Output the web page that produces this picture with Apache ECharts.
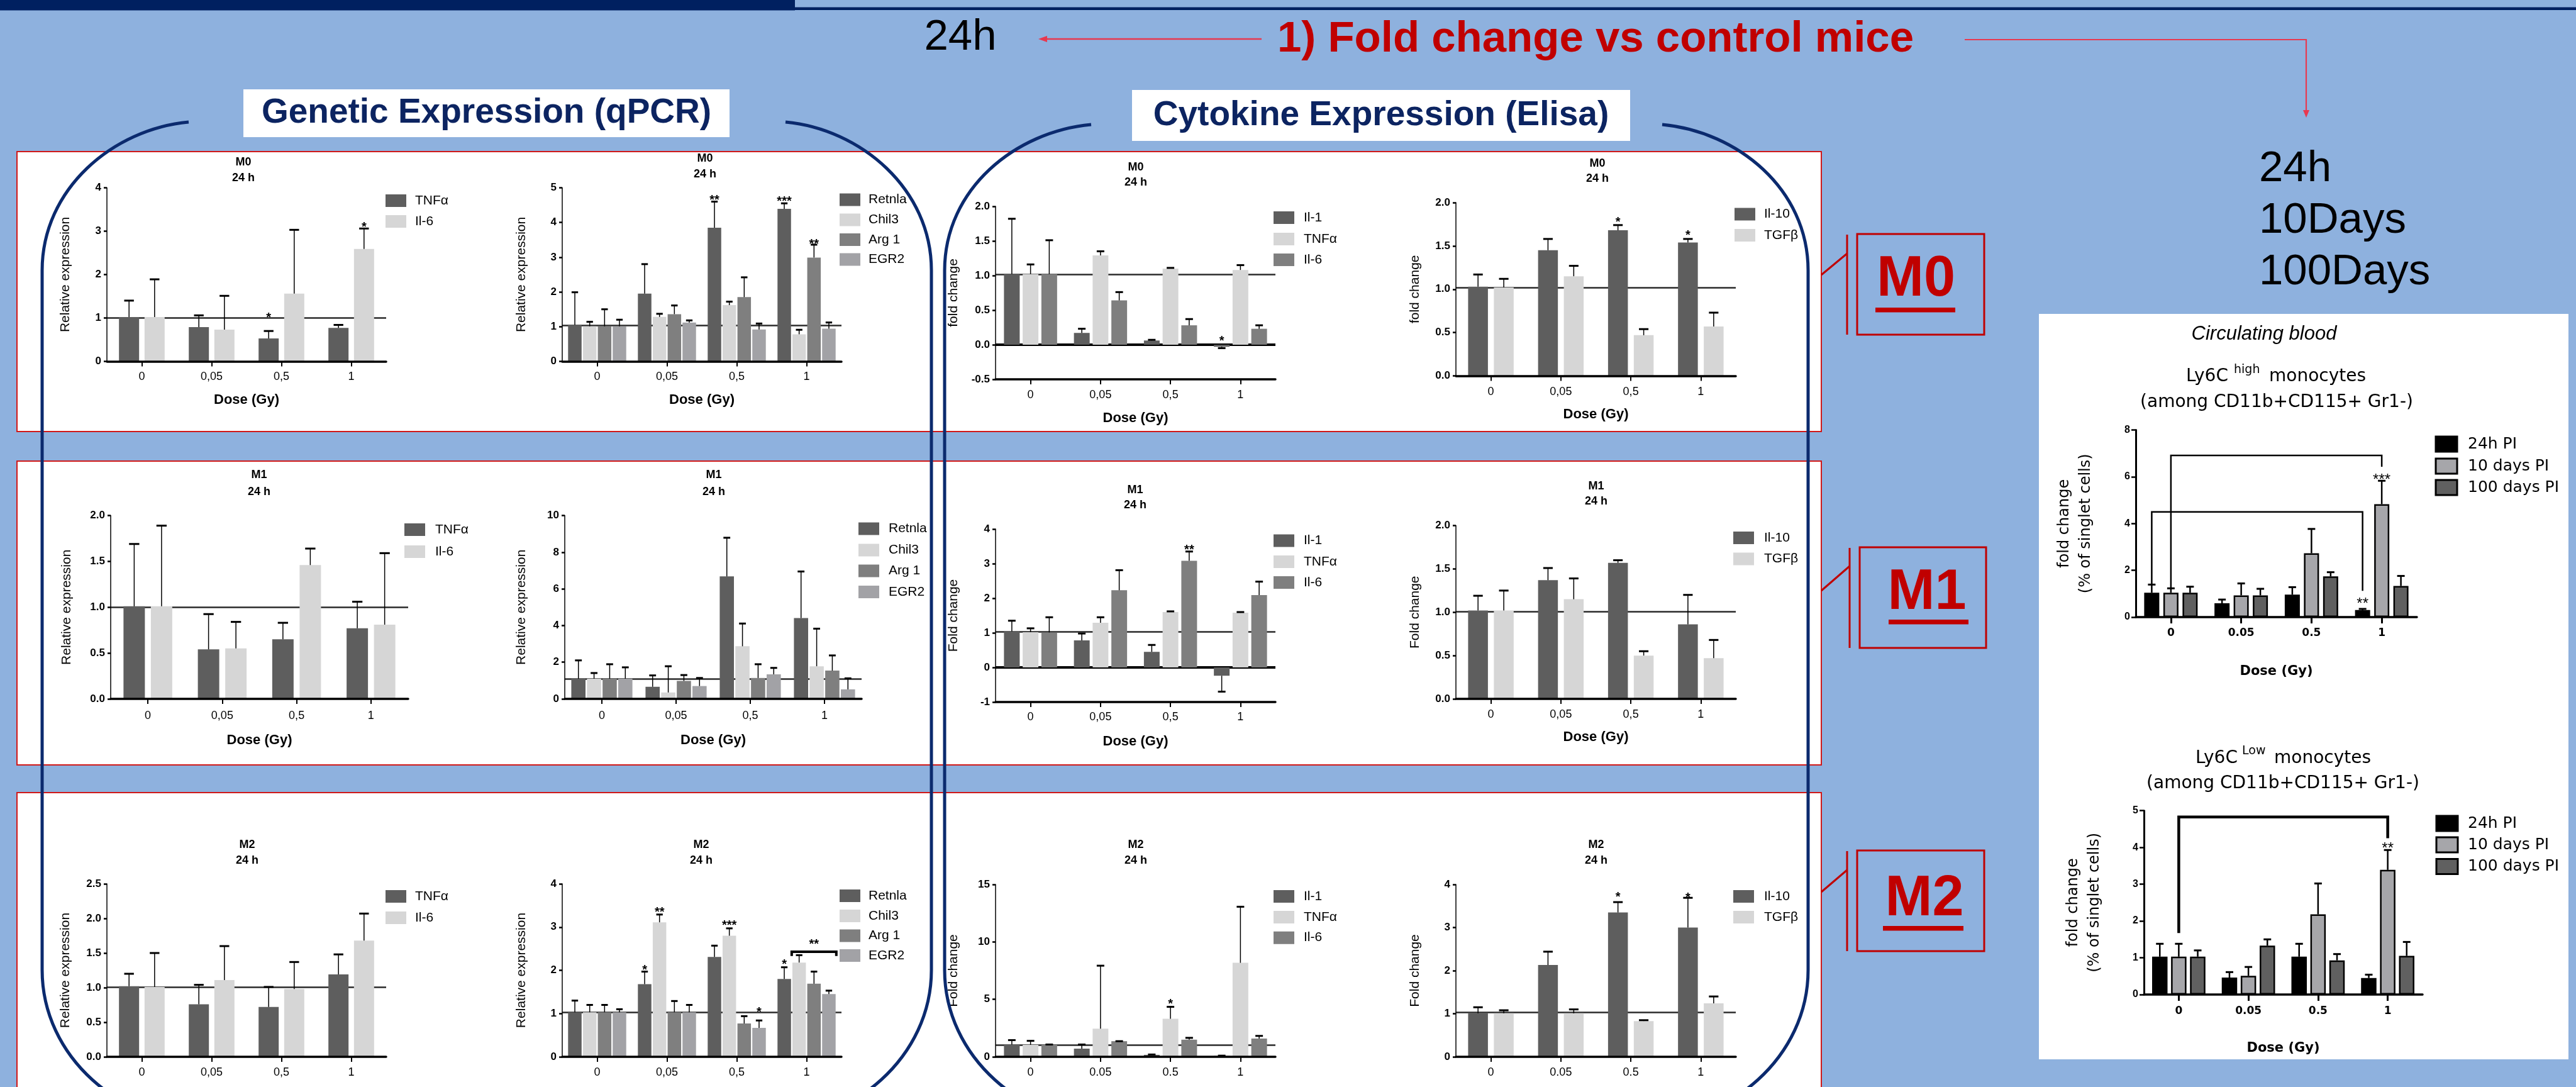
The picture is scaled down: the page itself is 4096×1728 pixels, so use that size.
<!DOCTYPE html>
<html><head><meta charset="utf-8">
<script src="https://cdn.jsdelivr.net/npm/echarts@6/dist/echarts.min.js"></script>
<style>html,body{margin:0;padding:0;background:#8EB1DE;overflow:hidden}#c{width:4096px;height:1728px}</style>
</head><body><div id="c"></div>
<script>
// ---------------- DATA ----------------
const dosesComma = ['0', '0,05', '0,5', '1'];
const dosesDot = ['0', '0.05', '0.5', '1'];
const rowNames = ['M0', 'M1', 'M2'];
const timeLabel = '24 h';
const doseName = 'Dose (Gy)';
const qpcrYName = 'Relative expression';

// M0 qPCR (TNFα / Il-6)
const m0g1Names = ['TNFα', 'Il-6'];
const m0g1Mean = [[1.02, 0.79, 0.53, 0.77], [1.02, 0.73, 1.56, 2.59]];
const m0g1Err = [[1.40, 1.06, 0.70, 0.84], [1.89, 1.51, 3.03, 3.06]];
const m0g1Ref = 1.0;
const m0g1Stars = [[2, 0, 1.07, '*'], [3, 1, 3.15, '*']];
// M0 qPCR (M2 markers)
const m0g2Names = ['Retnla', 'Chil3', 'Arg 1', 'EGR2'];
const m0g2Mean = [[1.05, 1.95, 3.85, 4.39], [1.01, 1.28, 1.62, 0.78], [1.01, 1.36, 1.85, 2.99], [1.01, 1.12, 0.92, 0.94]];
const m0g2Err = [[1.99, 2.80, 4.60, 4.55], [1.14, 1.37, 1.72, 0.91], [1.50, 1.61, 2.42, 3.36], [1.20, 1.18, 1.09, 1.12]];
const m0g2Ref = 1.04;
const m0g2Stars = [[2, 0, 4.72, '**'], [3, 0, 4.68, '***'], [3, 2, 3.45, '**']];
// M0 Elisa
const m0c1Names = ['Il-1', 'TNFα', 'Il-6'];
const m0c1Mean = [[1.02, 0.17, 0.06, -0.03], [1.02, 1.29, 1.10, 1.08], [1.02, 0.64, 0.28, 0.23]];
const m0c1Err = [[1.82, 0.23, 0.07, -0.05], [1.16, 1.35, 1.11, 1.15], [1.51, 0.76, 0.37, 0.28]];
const m0c1Ref = 1.02;
const m0c1Stars = [[3, 0, 0.09, '*']];
const m0c2Names = ['Il-10', 'TGFβ'];
const m0c2Mean = [[1.03, 1.45, 1.68, 1.54], [1.02, 1.15, 0.47, 0.57]];
const m0c2Err = [[1.17, 1.58, 1.74, 1.58], [1.12, 1.27, 0.54, 0.73]];
const m0c2Ref = 1.02;
const m0c2Stars = [[2, 0, 1.80, '*'], [3, 0, 1.65, '*']];

// M1 qPCR
const m1g1Names = ['TNFα', 'Il-6'];
const m1g1Mean = [[1.01, 0.54, 0.65, 0.77], [1.01, 0.55, 1.46, 0.81]];
const m1g1Err = [[1.69, 0.925, 0.83, 1.06], [1.89, 0.84, 1.64, 1.59]];
const m1g1Ref = 1.0;
const m1g2Names = ['Retnla', 'Chil3', 'Arg 1', 'EGR2'];
const m1g2Mean = [[1.10, 0.66, 6.68, 4.41], [1.10, 0.35, 2.87, 1.78], [1.10, 0.98, 1.14, 1.54], [1.10, 0.70, 1.34, 0.52]];
const m1g2Err = [[2.10, 1.28, 8.79, 6.95], [1.41, 1.78, 4.11, 3.83], [1.89, 1.30, 1.89, 2.37], [1.72, 1.14, 1.69, 1.12]];
const m1g2Ref = 1.09;
// M1 Elisa
const m1c1Names = ['Il-1', 'TNFα', 'Il-6'];
const m1c1Mean = [[1.04, 0.78, 0.45, -0.24], [1.02, 1.29, 1.60, 1.58], [1.01, 2.23, 3.08, 2.09]];
const m1c1Err = [[1.35, 0.98, 0.65, -0.70], [1.13, 1.45, 1.62, 1.60], [1.45, 2.81, 3.35, 2.48]];
const m1c1Ref = 1.03;
const m1c1Stars = [[2, 2, 3.47, '**']];
const m1c2Names = ['Il-10', 'TGFβ'];
const m1c2Mean = [[1.02, 1.37, 1.57, 0.86], [1.02, 1.15, 0.50, 0.47]];
const m1c2Err = [[1.19, 1.51, 1.60, 1.20], [1.25, 1.39, 0.55, 0.68]];
const m1c2Ref = 1.01;

// M2 qPCR
const m2g1Names = ['TNFα', 'Il-6'];
const m2g1Mean = [[1.02, 0.76, 0.72, 1.19], [1.01, 1.11, 0.98, 1.68]];
const m2g1Err = [[1.20, 1.04, 1.01, 1.48], [1.50, 1.60, 1.37, 2.07]];
const m2g1Ref = 1.01;
const m2g2Names = ['Retnla', 'Chil3', 'Arg 1', 'EGR2'];
const m2g2Mean = [[1.03, 1.68, 2.31, 1.80], [1.03, 3.11, 2.80, 2.18], [1.03, 1.03, 0.77, 1.69], [1.03, 1.03, 0.67, 1.45]];
const m2g2Err = [[1.30, 1.97, 2.57, 2.07], [1.20, 3.29, 2.97, 2.35], [1.20, 1.29, 0.94, 1.97], [1.10, 1.20, 0.84, 1.53]];
const m2g2Ref = 1.03;
const m2g2Stars = [[1, 0, 2.07, '*'], [1, 1, 3.40, '**'], [2, 1, 3.10, '***'], [2, 3, 1.09, '*'], [3, 0, 2.20, '*'], [3, 2, 2.66, '**']];
const m2g2Brackets = [[3, 0.5, 3, 3.5, 2.43, 2.33, 2.33]];
// M2 Elisa
const m2c1Names = ['Il-1', 'TNFα', 'Il-6'];
const m2c1Mean = [[1.07, 0.71, 0.17, 0.08], [1.04, 2.45, 3.31, 8.18], [1.04, 1.36, 1.49, 1.59]];
const m2c1Err = [[1.45, 1.07, 0.20, 0.10], [1.39, 7.93, 4.35, 13.06], [1.07, 1.36, 1.65, 1.82]];
const m2c1Ref = 1.04;
const m2c1Stars = [[2, 1, 4.79, '*']];
const m2c2Names = ['Il-10', 'TGFβ'];
const m2c2Mean = [[1.01, 2.13, 3.35, 3.00], [1.01, 1.01, 0.83, 1.24]];
const m2c2Err = [[1.15, 2.44, 3.59, 3.69], [1.08, 1.10, 0.85, 1.40]];
const m2c2Ref = 1.03;
const m2c2Stars = [[2, 0, 3.77, '*'], [3, 0, 3.75, '*']];

// Circulating blood
const bloodNames = ['24h PI', '10 days PI', '100 days PI'];
const highMean = [[1.04, 0.59, 0.96, 0.30], [1.04, 0.93, 2.73, 4.83], [1.04, 0.93, 1.74, 1.33]];
const highErr = [[1.39, 0.75, 1.28, 0.35], [1.23, 1.44, 3.77, 5.83], [1.30, 1.21, 1.92, 1.76]];
const highStars = [[3, 0, 0.70, '**'], [3, 1, 5.99, '***']];
const highBrackets = [[0, 1, 3, 1, 6.91, 1.23, 6.43], [0, 0, 3, 0, 4.50, 1.39, 1.12]];
const lowMean = [[1.03, 0.46, 1.03, 0.45], [1.03, 0.51, 2.18, 3.39], [1.03, 1.33, 0.93, 1.05]];
const lowErr = [[1.38, 0.61, 1.38, 0.54], [1.38, 0.75, 3.02, 3.93], [1.20, 1.50, 1.10, 1.43]];
const lowStars = [[3, 1, 4.06, '**']];
const lowBrackets = [[0, 1, 3, 1, 4.83, 1.67, 4.25]];
const bloodYName = 'fold change\n(% of singlet cells)';
const highTitle = ['Ly6C', 'high', 'monocytes'];
const lowTitle = ['Ly6C', 'Low', 'monocytes'];
const gateText = '(among CD11b+CD115+ Gr1-)';
const bloodTitle = 'Circulating blood';

const headerTime = '24h';
const headerTitle = '1) Fold change vs control mice';
const sideTimes = ['24h', '10Days', '100Days'];
const boxTitles = ['Genetic Expression (qPCR)', 'Cytokine Expression (Elisa)'];

// ---------------- STYLE / LAYOUT ----------------
const F = "'Liberation Sans', Arial, Helvetica, sans-serif";
const FW = "'DejaVu Sans', 'Liberation Sans', sans-serif";
const DK = '#5E5E5E', LT = '#D6D6D6', MD = '#7F7F7F', EG = '#A2A2A6';
const RED = '#C00000', NAVY = '#0B2A6E', ARROW = '#E8384F';

const option = {
  backgroundColor: '#8EB1DE', animation: false,
  textStyle: {fontFamily: F},
  grid: [], xAxis: [], yAxis: [], series: []
};
const bgEls = [], topEls = [];

function T(arr, x, y, text, font, fill, align) {
  arr.push({type: 'text', x: x, y: y, z: 20, silent: true,
    style: {text: text, font: font, fill: fill || '#000', textAlign: align || 'center', textVerticalAlign: 'middle'}});
}
function R(arr, x, y, w, h, fill, stroke, lw, z) {
  arr.push({type: 'rect', z: z == null ? 1 : z, silent: true, shape: {x: x, y: y, width: w, height: h},
    style: {fill: fill || 'none', stroke: stroke || 'none', lineWidth: lw || 0}});
}
function PL(arr, pts, stroke, lw, z) {
  arr.push({type: 'polyline', z: z || 15, silent: true, shape: {points: pts}, style: {stroke: stroke, lineWidth: lw, fill: 'none'}});
}
function BZ(arr, p0, c1, c2, p1, stroke, lw, z) {
  arr.push({type: 'bezierCurve', z: z || 10, silent: true,
    shape: {x1: p0[0], y1: p0[1], cpx1: c1[0], cpy1: c1[1], cpx2: c2[0], cpy2: c2[1], x2: p1[0], y2: p1[1]},
    style: {stroke: stroke, lineWidth: lw, fill: 'none'}});
}

function addChart(c) {
  const gi = option.grid.length;
  const big = !!c.big;
  const n = c.names.length;
  const step = c.bw * (1 + c.gap / 100);
  const off = s => (s - (n - 1) / 2) * step;
  option.grid.push({left: c.left, top: c.top, width: c.width, height: c.height, outerBoundsMode: 'none', containLabel: false});
  const labFS = big ? 17 : 18, nameFS = big ? 21 : 22;
  option.xAxis.push({
    type: 'category', gridIndex: gi, data: c.cats, z: 6, nameMoveOverlap: false,
    axisLine: {show: true, onZero: false, lineStyle: {color: '#000', width: 3.5}},
    axisTick: {show: true, alignWithLabel: true, length: big ? 10 : 8, lineStyle: {color: '#000', width: big ? 3 : 2}},
    axisLabel: {color: '#000', fontFamily: big ? FW : F, fontWeight: big ? 'bold' : 'normal', fontSize: labFS, margin: c.xLabDist - labFS / 2},
    name: c.xName || '', nameLocation: 'middle', nameGap: (c.xNameDist || 60) - nameFS / 2,
    nameTextStyle: {color: '#000', fontFamily: big ? FW : F, fontWeight: 'bold', fontSize: nameFS}
  });
  const yFS = big ? 24 : 21, yLH = big ? 34 : 21;
  const lines = c.yName.split('\n').length;
  option.yAxis.push({
    type: 'value', gridIndex: gi, min: c.ymin, max: c.ymax, interval: c.yint, z: 6, nameMoveOverlap: false,
    splitLine: {show: false},
    axisLine: {show: true, lineStyle: {color: '#000', width: big ? 3 : 1.5}},
    axisTick: {show: true, length: big ? 7 : 5, lineStyle: {color: '#000', width: 2.5}},
    axisLabel: {color: '#000', fontFamily: F, fontWeight: 'bold', fontSize: big ? 16 : 17, margin: 9, formatter: v => v.toFixed(c.ydec || 0)},
    name: c.yName, nameLocation: 'middle', nameRotate: 90, nameGap: c.yNameDist - lines * yLH / 2,
    nameTextStyle: {color: '#000', fontFamily: big ? FW : F, fontSize: yFS, lineHeight: yLH}
  });
  c.names.forEach((nm, s) => {
    const ser = {type: 'bar', name: nm, xAxisIndex: gi, yAxisIndex: gi, data: c.mean[s], barWidth: c.bw, barGap: c.gap + '%',
      z: 5, silent: true,
      itemStyle: {color: c.colors[s], borderColor: big ? '#000' : c.colors[s], borderWidth: big ? 2.5 : 0}};
    if (s === 0) {
      const ml = [];
      if (c.ref != null) ml.push({yAxis: c.ref, lineStyle: {color: '#2a2a2a', width: 2.5, type: 'solid'}});
      if (c.ymin < 0) ml.push({yAxis: 0, lineStyle: {color: '#000', width: 4, type: 'solid'}});
      if (ml.length) ser.markLine = {silent: true, symbol: 'none', label: {show: false}, data: ml, animation: false};
    }
    option.series.push(ser);
  });
  const errData = [];
  c.names.forEach((nm, s) => c.mean[s].forEach((m, k) => errData.push([k, m, c.err[s][k], s])));
  const capH = big ? 6 : Math.max(5, c.bw * 0.24);
  option.series.push({type: 'custom', xAxisIndex: gi, yAxisIndex: gi, z: 7, silent: true, data: errData, encode: {x: 0, y: 1},
    renderItem: (p, api) => {
      const k = api.value(0), m = api.value(1), e = api.value(2), s = api.value(3);
      const a = api.coord([k, m]), b = api.coord([k, e]);
      const x = a[0] + off(s);
      return {type: 'group', children: [
        {type: 'line', shape: {x1: x, y1: a[1], x2: x, y2: b[1]}, style: {stroke: '#000', lineWidth: big ? 2.5 : 1.5}},
        {type: 'line', shape: {x1: x - capH, y1: b[1], x2: x + capH, y2: b[1]}, style: {stroke: '#000', lineWidth: 3}}
      ]};
    }});
  if (c.stars) {
    const sfs = big ? 24 : 20;
    option.series.push({type: 'custom', xAxisIndex: gi, yAxisIndex: gi, z: 8, silent: true,
      data: c.stars.map(t => [t[0], t[2]]), encode: {x: 0, y: 1},
      renderItem: (p, api) => {
        const t = c.stars[p.dataIndex];
        const pt = api.coord([t[0], t[2]]);
        return {type: 'text', x: pt[0] + off(t[1]), y: pt[1] + sfs * 0.22,
          style: {text: t[3], font: (big ? '' : 'bold ') + sfs + 'px ' + F, fill: '#000', textAlign: 'center', textVerticalAlign: 'middle'}};
      }});
  }
  if (c.brackets) {
    option.series.push({type: 'custom', xAxisIndex: gi, yAxisIndex: gi, z: 8, silent: true,
      data: c.brackets.map(b => [b[0], b[4]]), encode: {x: 0, y: 1},
      renderItem: (p, api) => {
        const b = c.brackets[p.dataIndex];
        const t1 = api.coord([b[0], b[4]]), b1 = api.coord([b[0], b[5]]);
        const t2 = api.coord([b[2], b[4]]), b2 = api.coord([b[2], b[6]]);
        const x1 = t1[0] + off(b[1]), x2 = t2[0] + off(b[3]);
        return {type: 'polyline', shape: {points: [[x1, b1[1]], [x1, t1[1]], [x2, t2[1]], [x2, b2[1]]]},
          style: {stroke: '#000', lineWidth: c.bracketW || 2.5, fill: null}};
      }});
  }
  const lw = c.legW || 33, lh = c.legH || 20;
  c.names.forEach((nm, s) => {
    const y = c.legY[s];
    R(topEls, c.legX, y - lh / 2, lw, lh, c.colors[s], big ? '#000' : null, big ? 3 : 0, 18);
    T(topEls, c.legTX, y, nm, (big ? '25px ' + FW : '21px ' + F), '#000', 'left');
  });
  if (c.title) {
    T(topEls, c.title[0], c.title[1], c.title[3], 'bold 18px ' + F);
    T(topEls, c.title[0], c.title[2], timeLabel, 'bold 18px ' + F);
  }
}

const C2 = [DK, LT], C3 = [DK, LT, MD], C4 = [DK, LT, MD, EG];
const bloodColors = ['#000000', '#A6A6AA', '#606060'];

// ---- background decorations ----
R(bgEls, 0, 0, 1264, 16.5, '#002060', null, 0, 1);
R(bgEls, 1264, 11.5, 2832, 4.5, '#002060', null, 0, 1);
[[241, 445], [733, 483], [1260, 480]].forEach(r => R(bgEls, 27, r[0], 2869, r[1], '#FFFFFF', '#D01818', 2, 1));
R(bgEls, 3242, 499, 842, 1185, '#FFFFFF', null, 0, 1);

function stadium(xl, xr, yS) {
  const k = 0.5523, rx = 273, ry = 247, yv = 430, yb = 1542, ybot = 1789;
  BZ(bgEls, [xl + 233, yS], [xl + 113, yS + 11], [xl, yv - 130], [xl, yv], NAVY, 5);
  PL(bgEls, [[xl, yv], [xl, yb]], NAVY, 5, 10);
  BZ(bgEls, [xl, yb], [xl, yb + ry * k], [xl + rx - rx * k, ybot], [xl + rx, ybot], NAVY, 5);
  BZ(bgEls, [xr - rx, ybot], [xr - rx + rx * k, ybot], [xr, yb + ry * k], [xr, yb], NAVY, 5);
  PL(bgEls, [[xr, yb], [xr, yv]], NAVY, 5, 10);
  BZ(bgEls, [xr, yv], [xr, yv - 130], [xr - 113, yS + 11], [xr - 232, yS], NAVY, 5);
}
stadium(67, 1481, 194);
stadium(1502, 2875, 198);
R(bgEls, 387, 142, 773, 76, '#FFFFFF', null, 0, 12);
R(bgEls, 1800, 143, 792, 81, '#FFFFFF', null, 0, 12);

// ---- header texts / arrows ----
T(topEls, 1527, 60, headerTime, '69px ' + F);
T(topEls, 2537, 63, headerTitle, 'bold 69px ' + F, RED);
PL(topEls, [[2006, 62], [1660, 62]], ARROW, 2.5);
topEls.push({type: 'polygon', z: 15, silent: true, shape: {points: [[1651, 62], [1665, 57], [1665, 67]]}, style: {fill: ARROW}});
PL(topEls, [[3124, 63], [3667, 63], [3667, 177]], ARROW, 2.2);
topEls.push({type: 'polygon', z: 15, silent: true, shape: {points: [[3667, 187], [3662, 175], [3672, 175]]}, style: {fill: ARROW}});
T(topEls, 773.5, 180, boxTitles[0], 'bold 55px ' + F, '#0C2461');
T(topEls, 2196, 183.5, boxTitles[1], 'bold 55px ' + F, '#0C2461');
sideTimes.forEach((t, i) => T(topEls, 3592, [269, 351, 433][i], t, '69px ' + F, '#000', 'left'));

// ---- M labels ----
[[2953, 372, 202, 3046.5, 445, 2982, 489, 127, 2937, 437, 403],
 [2957, 870, 201, 3064, 943, 3003, 985, 127, 2941, 939, 900],
 [2953, 1352, 202, 3060, 1430, 2994, 1472, 128, 2937, 1418, 1383]].forEach((m, i) => {
  R(topEls, m[0], m[1], m[2], 160, null, RED, 3, 15);
  T(topEls, m[3], m[4], rowNames[i], 'bold 90px ' + F, RED);
  R(topEls, m[5], m[6], m[7], 7.5, RED, null, 0, 15);
  PL(topEls, [[m[8], m[1] + 1], [m[8], m[1] + 160]], RED, 3);
  PL(topEls, [[2896, m[9]], [m[8], m[10]]], RED, 3);
});

// ---- circulating blood titles ----
T(topEls, 3600, 531, bloodTitle, 'italic 31px ' + F);
T(topEls, 3476, 599, highTitle[0], '28px ' + FW, '#000', 'left');
T(topEls, 3552, 588, highTitle[1], '19px ' + FW, '#000', 'left');
T(topEls, 3608, 599, highTitle[2], '28px ' + FW, '#000', 'left');
T(topEls, 3620, 640, gateText, '28px ' + FW);
T(topEls, 3491, 1206, lowTitle[0], '28px ' + FW, '#000', 'left');
T(topEls, 3565, 1194, lowTitle[1], '19px ' + FW, '#000', 'left');
T(topEls, 3616, 1206, lowTitle[2], '28px ' + FW, '#000', 'left');
T(topEls, 3630, 1246, gateText, '28px ' + FW);

// ---- charts ----
addChart({names: m0g1Names, mean: m0g1Mean, err: m0g1Err, ref: m0g1Ref, stars: m0g1Stars, colors: C2, cats: dosesComma,
  left: 170, top: 298.4, width: 444, height: 276.1, bw: 32, gap: 27, ymin: 0, ymax: 4, yint: 1, ydec: 0,
  yName: qpcrYName, yNameDist: 66, xName: doseName, xNameDist: 61, xLabDist: 24.5,
  title: [387, 258, 283, rowNames[0]], legX: 613, legY: [319, 352], legTX: 660});
addChart({names: m0g2Names, mean: m0g2Mean, err: m0g2Err, ref: m0g2Ref, stars: m0g2Stars, colors: C4, cats: dosesComma,
  left: 894, top: 298.4, width: 444, height: 276.1, bw: 21.5, gap: 10, ymin: 0, ymax: 5, yint: 1, ydec: 0,
  yName: qpcrYName, yNameDist: 65, xName: doseName, xNameDist: 61, xLabDist: 24.5,
  title: [1121, 252.5, 276.6, rowNames[0]], legX: 1335, legY: [317.5, 349.6, 381, 412.5], legTX: 1381});
addChart({names: m0c1Names, mean: m0c1Mean, err: m0c1Err, ref: m0c1Ref, stars: m0c1Stars, colors: C3, cats: dosesComma,
  left: 1583, top: 328, width: 445, height: 274.9, bw: 25, gap: 19, ymin: -0.5, ymax: 2, yint: 0.5, ydec: 1,
  yName: 'fold change', yNameDist: 67, xName: doseName, xNameDist: 62, xLabDist: 25,
  title: [1806, 265.7, 290, rowNames[0]], legX: 2025, legY: [346, 380, 413], legTX: 2073});
addChart({names: m0c2Names, mean: m0c2Mean, err: m0c2Err, ref: m0c2Ref, stars: m0c2Stars, colors: C2, cats: dosesComma,
  left: 2315, top: 322, width: 445, height: 275.6, bw: 31.5, gap: 30, ymin: 0, ymax: 2, yint: 0.5, ydec: 1,
  yName: 'fold change', yNameDist: 65, xName: doseName, xNameDist: 61.4, xLabDist: 25.2,
  title: [2540, 259.8, 284, rowNames[0]], legX: 2758, legY: [340.5, 374], legTX: 2805});

addChart({names: m1g1Names, mean: m1g1Mean, err: m1g1Err, ref: m1g1Ref, colors: C2, cats: dosesComma,
  left: 176, top: 819.6, width: 473, height: 291.4, bw: 34, gap: 28, ymin: 0, ymax: 2, yint: 0.5, ydec: 1,
  yName: qpcrYName, yNameDist: 70, xName: doseName, xNameDist: 66, xLabDist: 27,
  title: [412, 754.6, 781.7, rowNames[1]], legX: 643, legY: [842, 877], legTX: 692});
addChart({names: m1g2Names, mean: m1g2Mean, err: m1g2Err, ref: m1g2Ref, colors: C4, cats: dosesComma,
  left: 898, top: 819.6, width: 472, height: 291.4, bw: 22.6, gap: 10, ymin: 0, ymax: 10, yint: 2, ydec: 0,
  yName: qpcrYName, yNameDist: 69, xName: doseName, xNameDist: 66, xLabDist: 27,
  title: [1135, 754.6, 781.7, rowNames[1]], legX: 1365, legY: [840.5, 874.6, 907.6, 941], legTX: 1413});
addChart({names: m1c1Names, mean: m1c1Mean, err: m1c1Err, ref: m1c1Ref, stars: m1c1Stars, colors: C3, cats: dosesComma,
  left: 1583, top: 841, width: 445, height: 275, bw: 25, gap: 19, ymin: -1, ymax: 4, yint: 1, ydec: 0,
  yName: 'Fold change', yNameDist: 67, xName: doseName, xNameDist: 62.6, xLabDist: 24.5,
  title: [1805, 778.7, 803, rowNames[1]], legX: 2025, legY: [859.6, 893, 926], legTX: 2073});
addChart({names: m1c2Names, mean: m1c2Mean, err: m1c2Err, ref: m1c2Ref, colors: C2, cats: dosesComma,
  left: 2315, top: 835.5, width: 445, height: 275.5, bw: 31.5, gap: 30, ymin: 0, ymax: 2, yint: 0.5, ydec: 1,
  yName: 'Fold change', yNameDist: 65, xName: doseName, xNameDist: 61, xLabDist: 25,
  title: [2538, 772.6, 797, rowNames[1]], legX: 2756, legY: [855, 888.5], legTX: 2805});

addChart({names: m2g1Names, mean: m2g1Mean, err: m2g1Err, ref: m2g1Ref, colors: C2, cats: dosesComma,
  left: 170, top: 1405, width: 444, height: 275, bw: 32, gap: 27, ymin: 0, ymax: 2.5, yint: 0.5, ydec: 1,
  yName: qpcrYName, yNameDist: 66, xLabDist: 24.6,
  title: [393, 1343, 1368, rowNames[2]], legX: 613, legY: [1425, 1459], legTX: 660});
addChart({names: m2g2Names, mean: m2g2Mean, err: m2g2Err, ref: m2g2Ref, stars: m2g2Stars, brackets: m2g2Brackets, bracketW: 4, colors: C4, cats: dosesComma,
  left: 894, top: 1405, width: 444, height: 275, bw: 21.5, gap: 10, ymin: 0, ymax: 4, yint: 1, ydec: 0,
  yName: qpcrYName, yNameDist: 65, xLabDist: 24.6,
  title: [1115, 1343, 1368, rowNames[2]], legX: 1335, legY: [1424, 1456, 1487.6, 1519], legTX: 1381});
addChart({names: m2c1Names, mean: m2c1Mean, err: m2c1Err, ref: m2c1Ref, stars: m2c1Stars, colors: C3, cats: dosesDot,
  left: 1583, top: 1406, width: 445, height: 274, bw: 25, gap: 19, ymin: 0, ymax: 15, yint: 5, ydec: 0,
  yName: 'Fold change', yNameDist: 67, xLabDist: 24.6,
  title: [1806, 1343, 1368, rowNames[2]], legX: 2025, legY: [1425, 1458, 1490.7], legTX: 2073});
addChart({names: m2c2Names, mean: m2c2Mean, err: m2c2Err, ref: m2c2Ref, stars: m2c2Stars, colors: C2, cats: dosesDot,
  left: 2315, top: 1406, width: 445, height: 274, bw: 31.5, gap: 30, ymin: 0, ymax: 4, yint: 1, ydec: 0,
  yName: 'Fold change', yNameDist: 65, xLabDist: 24.6,
  title: [2538, 1343, 1368, rowNames[2]], legX: 2756, legY: [1425, 1458], legTX: 2805});

addChart({big: true, names: bloodNames, mean: highMean, err: highErr, stars: highStars, brackets: highBrackets, bracketW: 2.5,
  colors: bloodColors, cats: dosesDot,
  left: 3396, top: 683.6, width: 447, height: 297.4, bw: 24, gap: 27, ymin: 0, ymax: 8, yint: 2, ydec: 0,
  yName: bloodYName, yNameDist: 96.5, xName: doseName, xNameDist: 87, xLabDist: 26,
  legX: 3873, legW: 34, legH: 24, legY: [706, 741, 775], legTX: 3924});
addChart({big: true, names: bloodNames, mean: lowMean, err: lowErr, stars: lowStars, brackets: lowBrackets, bracketW: 4.5,
  colors: bloodColors, cats: dosesDot,
  left: 3409, top: 1288.7, width: 443, height: 292.3, bw: 24.5, gap: 23, ymin: 0, ymax: 5, yint: 1, ydec: 0,
  yName: bloodYName, yNameDist: 95.5, xName: doseName, xNameDist: 86, xLabDist: 26.5,
  legX: 3874, legW: 34, legH: 24, legY: [1309, 1343, 1377.5], legTX: 3924});

option.graphic = {elements: bgEls.concat(topEls)};

const chart = echarts.init(document.getElementById('c'), null, {renderer: 'canvas', width: 4096, height: 1728});
chart.setOption(option);
</script>
</body></html>
